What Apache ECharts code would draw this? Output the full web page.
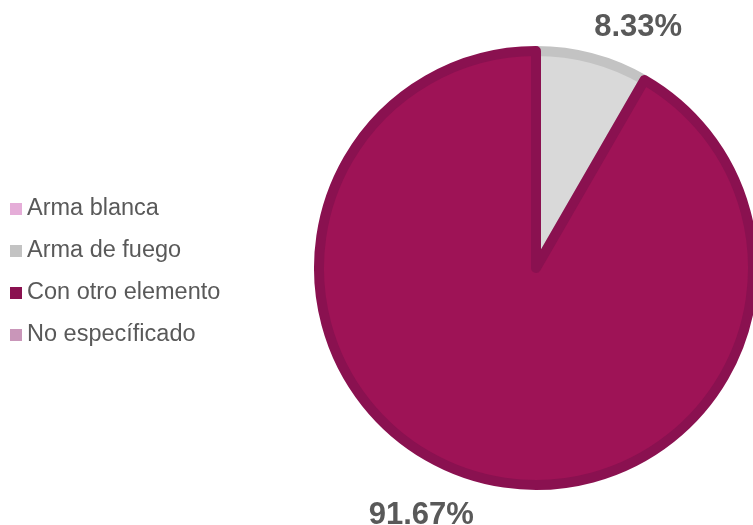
<!DOCTYPE html>
<html>
<head>
<meta charset="utf-8">
<script src="https://cdn.jsdelivr.net/npm/echarts@6/dist/echarts.min.js"></script>
<style>
html,body{margin:0;padding:0;background:#fff;}
#c{width:753px;height:525px;}
</style>
</head>
<body>
<div id="c"></div>
<script>
const categories = ['Arma blanca', 'Arma de fuego', 'Con otro elemento', 'No específicado'];
const values = [0, 8.33, 91.67, 0];
const fillColors = ['#E8B3DB', '#D9D9D9', '#9E1356', '#CC99BD'];
const borderColors = ['#E5ADD8', '#C3C3C3', '#8A1150', '#C996B9'];

const chart = echarts.init(document.getElementById('c'), null, {renderer: 'canvas'});
const data = categories.map((name, i) => ({
  name: name,
  value: values[i],
  itemStyle: {
    color: fillColors[i],
    borderColor: borderColors[i],
    borderWidth: values[i] > 0 ? 10 : 0
  },
  label: { show: values[i] > 0 }
}));

chart.setOption({
  animation: false,
  legend: {
    orient: 'vertical',
    left: 10,
    top: 197,
    padding: 0,
    itemWidth: 12,
    itemHeight: 12,
    itemGap: 18,
    icon: 'rect',
    itemStyle: { borderWidth: 0 },
    data: categories.map((name, i) => ({ name: name, itemStyle: { color: borderColors[i], borderWidth: 0 } })),
    textStyle: { fontFamily: 'Liberation Sans, Arial, sans-serif', fontSize: 23.5, color: '#595959' }
  },
  series: [{
    type: 'pie',
    center: [536, 268],
    radius: 217,
    startAngle: 90,
    clockwise: true,
    avoidLabelOverlap: false,
    stillShowZeroSum: true,
    label: {
      show: true,
      position: 'outside',
      formatter: '{d}%',
      fontFamily: 'Liberation Sans, Arial, sans-serif',
      fontWeight: 'bold',
      fontSize: 31,
      color: '#595959'
    },
    labelLine: { show: false, length: 35, length2: 0 },
    labelLayout: function (p) {
      return p.dataIndex === 1 ? { dx: -12, dy: 3 } : { dx: 8, dy: 4 };
    },
    data: data
  }]
});
</script>
</body>
</html>
